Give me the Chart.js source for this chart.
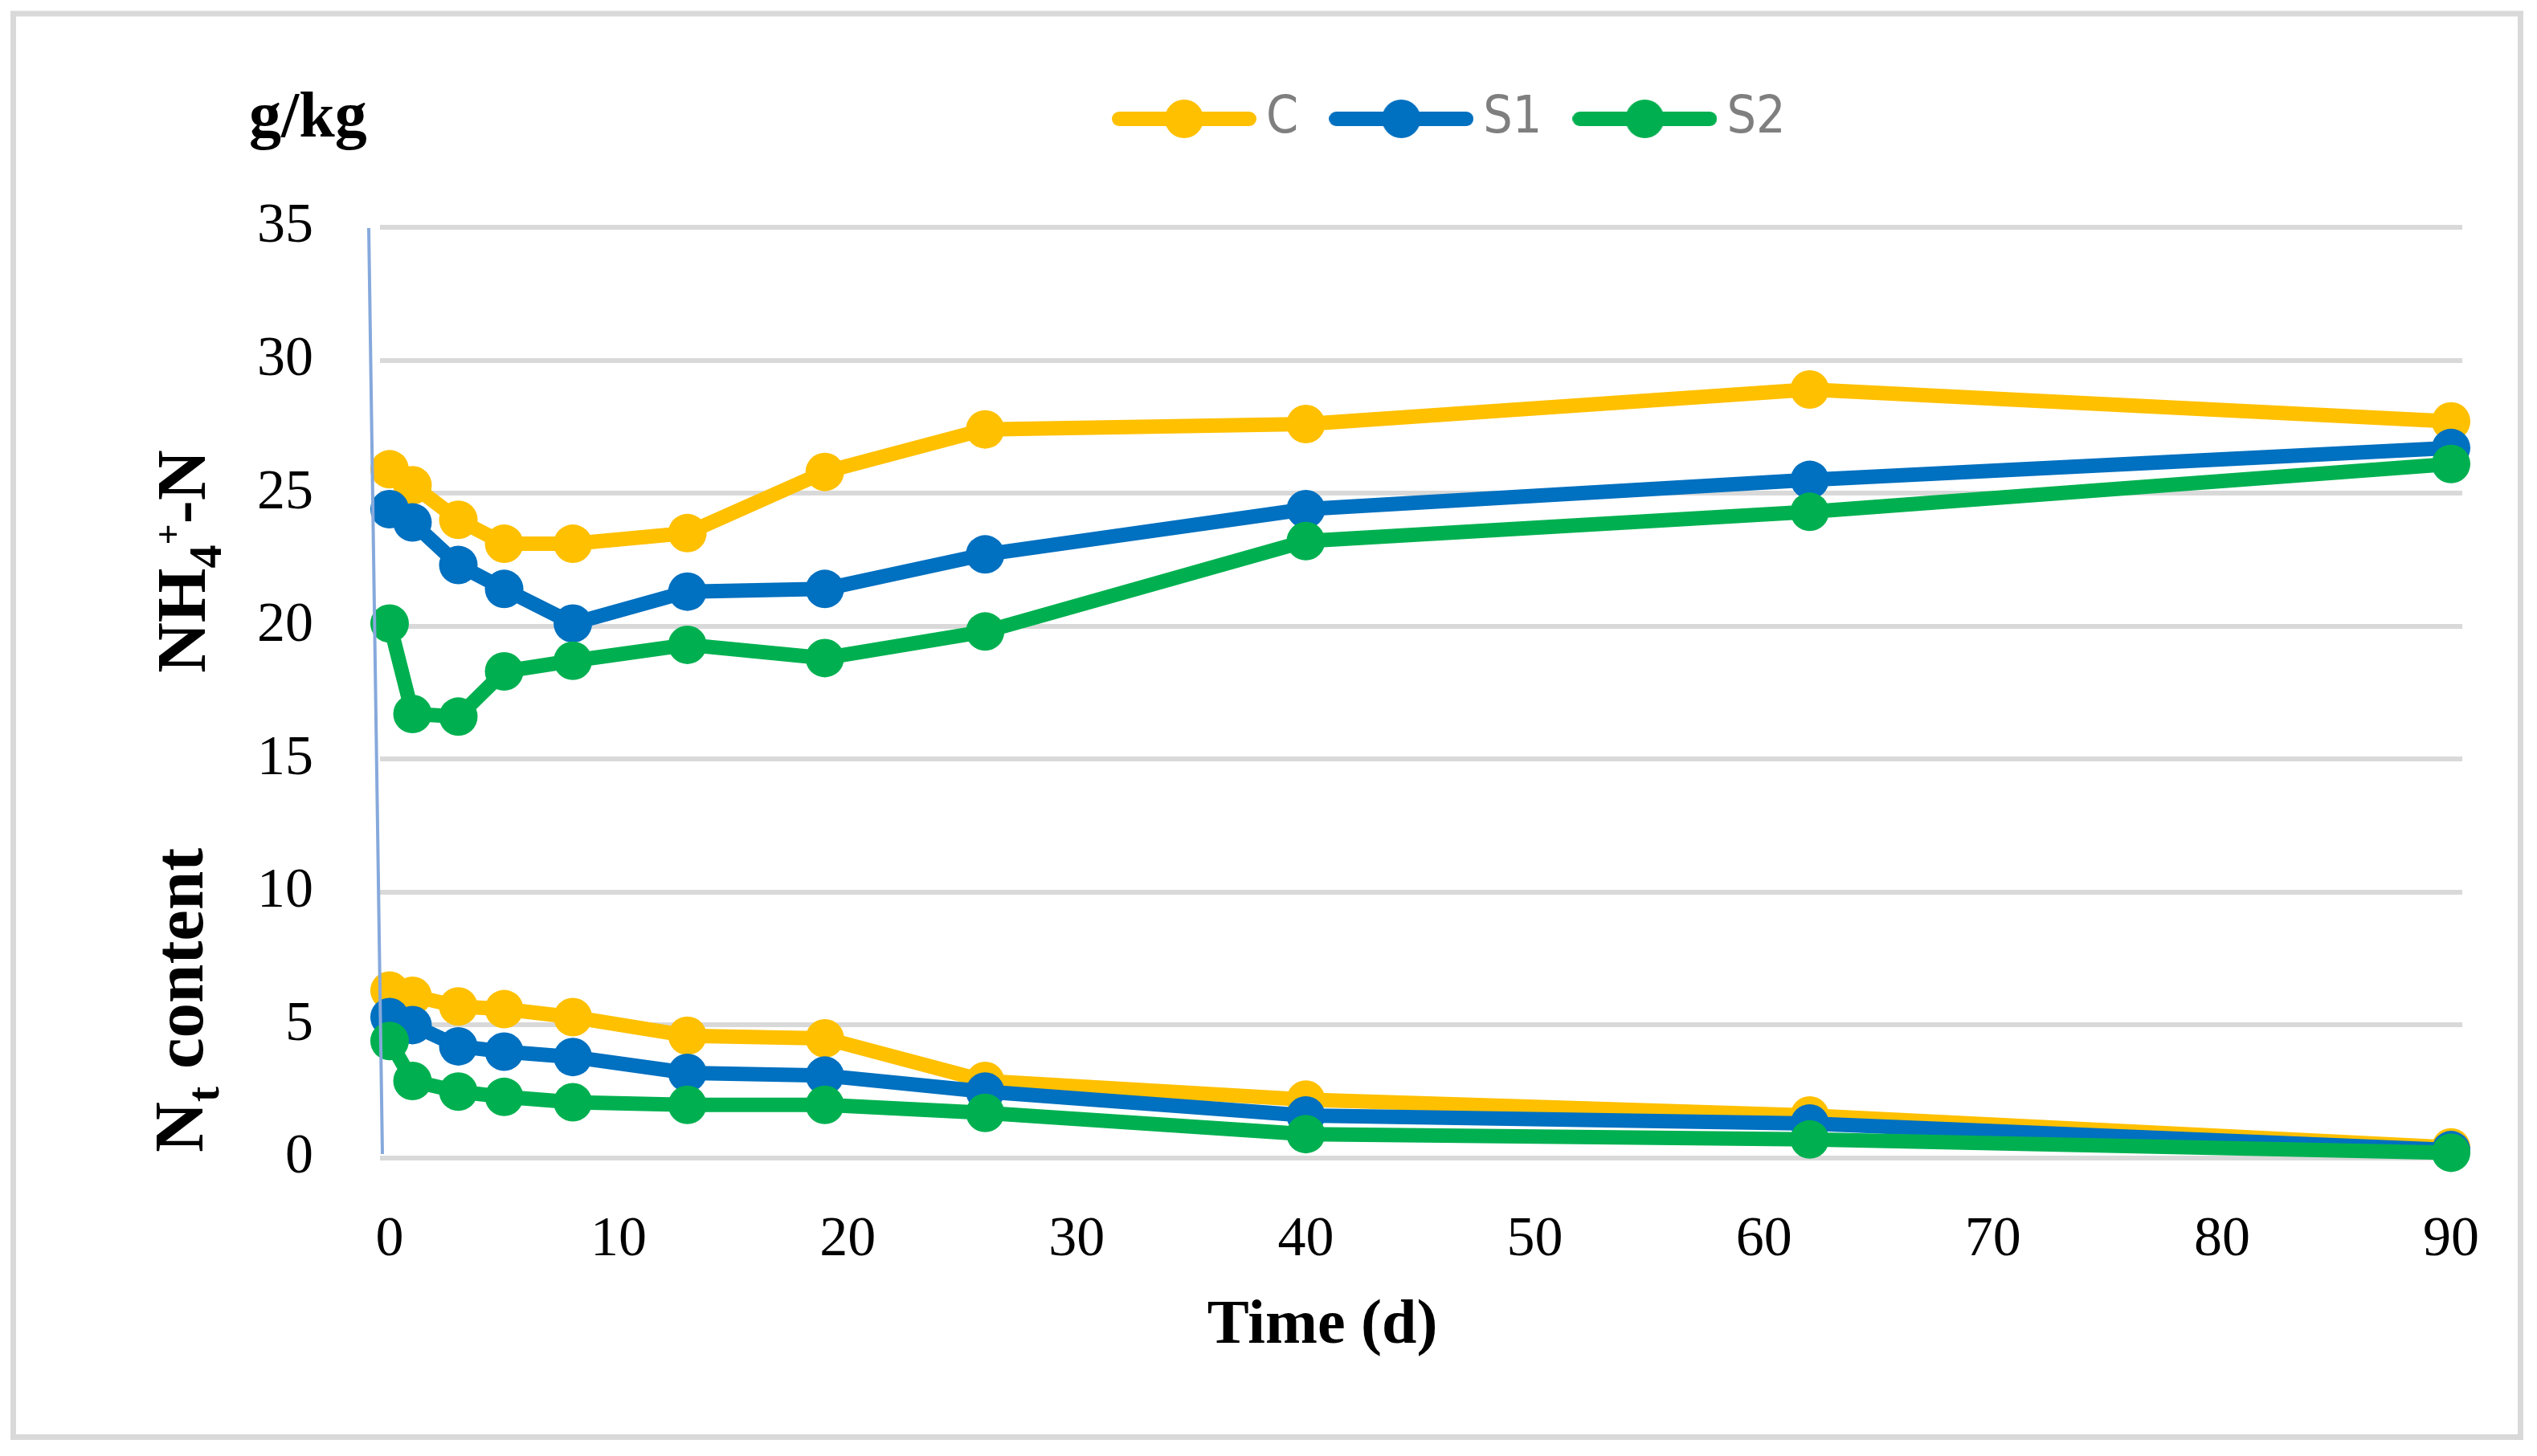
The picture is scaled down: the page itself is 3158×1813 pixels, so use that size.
<!DOCTYPE html>
<html>
<head>
<meta charset="utf-8">
<script src="https://cdn.jsdelivr.net/npm/chart.js@4.4.1/dist/chart.umd.min.js"></script>
<style>
  html, body { margin: 0; padding: 0; background: #fff; }
  #wrap { width: 3158px; height: 1813px; position: relative; }
</style>
</head>
<body>
<div id="wrap"><canvas id="nChart"></canvas></div>
<script>
// sampling days
const days = [0, 1, 3, 5, 8, 13, 19, 26, 40, 62, 90];

// upper group of curves (g/kg)
const upperC  = [25.9, 25.3, 24.0, 23.1, 23.1, 23.5, 25.8, 27.4, 27.6, 28.9, 27.7];
const upperS1 = [24.4, 23.9, 22.3, 21.4, 20.1, 21.3, 21.4, 22.7, 24.4, 25.5, 26.7];
const upperS2 = [20.1, 16.7, 16.6, 18.3, 18.7, 19.3, 18.8, 19.8, 23.2, 24.3, 26.1];

// lower group of curves (g/kg)
const lowerC  = [6.3, 6.1, 5.7, 5.6, 5.3, 4.6, 4.5, 2.9, 2.2, 1.6, 0.4];
const lowerS1 = [5.3, 5.0, 4.2, 4.0, 3.8, 3.2, 3.1, 2.5, 1.6, 1.3, 0.3];
const lowerS2 = [4.4, 2.9, 2.5, 2.3, 2.1, 2.0, 2.0, 1.7, 0.9, 0.7, 0.2];

const seriesNames = ['C', 'S1', 'S2'];
const seriesColors = ['#FFC000', '#0070C0', '#00B050'];

const xTicks = [0, 10, 20, 30, 40, 50, 60, 70, 80, 90];
const yTicks = [0, 5, 10, 15, 20, 25, 30, 35];

const unitLabel = 'g/kg';
const xTitle = 'Time (d)';

const SERIF = "'Liberation Serif', 'Times New Roman', serif";
const SANS = "'DejaVu Sans Condensed', 'Liberation Sans', sans-serif";
const LEGEND_FONT = 64;

// little line + dot picture used as legend symbol
function legendSwatch(color) {
    const c = document.createElement('canvas');
    c.width = 180;
    c.height = 50;
    const g = c.getContext('2d');
    g.strokeStyle = color;
    g.lineWidth = 18;
    g.lineCap = 'round';
    g.beginPath();
    g.moveTo(9, 25);
    g.lineTo(171, 25);
    g.stroke();
    g.fillStyle = color;
    g.beginPath();
    g.arc(90, 25, 24, 0, Math.PI * 2);
    g.fill();
    return c;
}
const swatches = seriesColors.map(legendSwatch);

function makeSet(label, vals, i) {
    return {
        label: label,
        data: days.map((d, k) => ({ x: d, y: vals[k] })),
        borderColor: seriesColors[i],
        backgroundColor: seriesColors[i],
        pointBackgroundColor: seriesColors[i],
        pointBorderWidth: 0,
        borderWidth: 18,
        borderJoinStyle: 'round',
        pointRadius: 24,
        pointHoverRadius: 24,
        tension: 0,
        order: 3 - i,
        clip: false
    };
}

const datasets = [];
[upperC, upperS1, upperS2].forEach((v, i) => datasets.push(makeSet(seriesNames[i], v, i)));
[lowerC, lowerS1, lowerS2].forEach((v, i) => datasets.push(makeSet(seriesNames[i] + ' (low)', v, i)));

// rotated axis title with sub/superscripts
function drawRuns(ctx, x, y, runs) {
    ctx.save();
    ctx.translate(x, y);
    ctx.rotate(-Math.PI / 2);
    ctx.textAlign = 'left';
    ctx.textBaseline = 'alphabetic';
    ctx.fillStyle = '#000';
    let pos = 0;
    runs.forEach(r => {
        ctx.font = 'bold ' + r.size + 'px ' + SERIF;
        ctx.fillText(r.text, pos, r.dy);
        pos += ctx.measureText(r.text).width;
    });
    ctx.restore();
}

const decorPlugin = {
    id: 'decor',
    afterLayout(chart) {
        // put the legend where the original has it
        const lg = chart.legend;
        const pad = lg.options.labels.padding;
        const w = lg.right - lg.left;
        const h = lg.bottom - lg.top;
        lg.left = 1404 - pad;
        lg.right = lg.left + w;
        lg.top = 148 - pad - LEGEND_FONT / 2;
        lg.bottom = lg.top + h;
    },
    beforeDraw(chart) {
        const ctx = chart.ctx;
        ctx.save();
        ctx.fillStyle = '#fff';
        ctx.fillRect(0, 0, chart.width, chart.height);
        ctx.strokeStyle = '#d9d9d9';
        ctx.lineWidth = 7;
        ctx.strokeRect(16.5, 17, 3121, 1772.5);
        ctx.restore();
    },
    afterDatasetsDraw(chart) {
        // thin slanted axis line at the left of the plot
        const ctx = chart.ctx;
        const a = chart.chartArea;
        ctx.save();
        ctx.strokeStyle = '#86a9dc';
        ctx.lineWidth = 4;
        ctx.beginPath();
        ctx.moveTo(a.left - 14, a.top + 1);
        ctx.lineTo(a.left + 3, a.bottom - 5);
        ctx.stroke();
        ctx.restore();
    },
    afterDraw(chart) {
        const ctx = chart.ctx;
        ctx.save();
        ctx.fillStyle = '#000';
        ctx.textBaseline = 'alphabetic';
        ctx.font = 'bold 80px ' + SERIF;
        ctx.textAlign = 'left';
        ctx.fillText(unitLabel, 310, 170);
        ctx.font = 'bold 78px ' + SERIF;
        ctx.textAlign = 'center';
        ctx.fillText(xTitle, 1646, 1672);
        ctx.restore();

        drawRuns(ctx, 252, 1435, [
            { text: 'N', size: 87, dy: 0 },
            { text: 't', size: 58, dy: 20 },
            { text: ' content', size: 87, dy: 0 }
        ]);
        drawRuns(ctx, 255, 838, [
            { text: 'NH', size: 87, dy: 0 },
            { text: '4', size: 58, dy: 20 },
            { text: '+', size: 46, dy: -30 },
            { text: '-N', size: 87, dy: 0 }
        ]);
    }
};

const ctx = document.getElementById('nChart');
new Chart(ctx, {
    type: 'line',
    data: { datasets: datasets },
    options: {
        responsive: true,
        maintainAspectRatio: false,
        devicePixelRatio: 1,
        animation: false,
        layout: { padding: { left: 0, right: 93, top: 151, bottom: 20 } },
        plugins: {
            title: { display: false },
            tooltip: { enabled: false },
            legend: {
                display: true,
                position: 'top',
                align: 'start',
                labels: {
                    usePointStyle: true,
                    pointStyleWidth: 140,
                    padding: 58,
                    color: '#7f7f7f',
                    font: { family: SANS, size: LEGEND_FONT },
                    generateLabels() {
                        return seriesNames.map((name, i) => ({
                            text: name,
                            pointStyle: swatches[i],
                            fillStyle: seriesColors[i],
                            strokeStyle: seriesColors[i],
                            lineWidth: 0,
                            hidden: false,
                            datasetIndex: i,
                            fontColor: '#7f7f7f'
                        }));
                    }
                }
            }
        },
        scales: {
            x: {
                type: 'linear',
                min: -0.42,
                max: 90.49,
                grid: { display: false },
                border: { display: false },
                ticks: {
                    autoSkip: false,
                    maxRotation: 0,
                    padding: 53,
                    color: '#000',
                    font: { family: SERIF, size: 70 }
                },
                afterBuildTicks: s => { s.ticks = xTicks.map(v => ({ value: v })); },
                afterFit: s => { s.height = 351; }
            },
            y: {
                min: 0,
                max: 35,
                grid: { color: '#d9d9d9', lineWidth: 6, drawTicks: false },
                border: { display: false },
                ticks: {
                    padding: 83,
                    color: '#000',
                    font: { family: SERIF, size: 70 }
                },
                afterBuildTicks: s => { s.ticks = yTicks.map(v => ({ value: v })); },
                afterFit: s => { s.width = 473; }
            }
        }
    },
    plugins: [decorPlugin]
});
</script>
</body>
</html>
